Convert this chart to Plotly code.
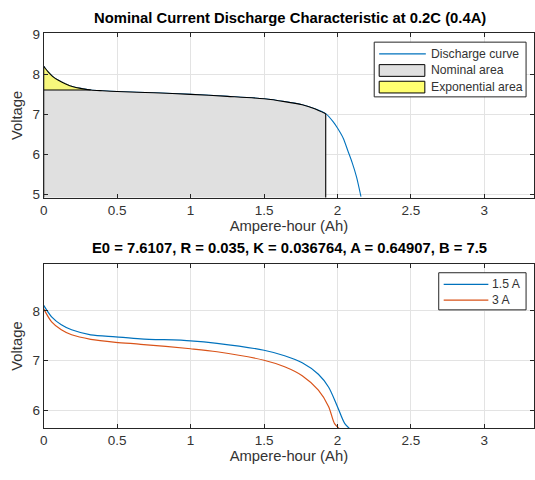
import plotly.graph_objects as go

W, H = 535, 480

# ---------------- data ----------------
# Top: nominal discharge curve at 0.2C (0.4 A)
top_q = [0.00, 0.03, 0.06, 0.10, 0.15, 0.20, 0.25, 0.32, 0.40, 0.50, 0.75, 1.00,
         1.25, 1.50, 1.64, 1.76, 1.84, 1.92, 1.97, 2.00, 2.04, 2.07, 2.10, 2.13, 2.16]
top_v = [8.20, 8.06, 7.95, 7.85, 7.76, 7.69, 7.65, 7.61, 7.59, 7.57, 7.54, 7.50,
         7.45, 7.39, 7.32, 7.24, 7.15, 7.02, 6.82, 6.66, 6.40, 6.10, 5.80, 5.44, 4.95]
Q_EXP = 0.32     # end of exponential zone (Ah)
V_EXP = 7.61     # voltage at end of exponential zone
Q_NOM = 1.92     # end of nominal zone (Ah)
V_FLOOR = 4.90   # lower edge of the shaded nominal area

# Bottom: discharge curves at two currents
q_15 = [0.00, 0.054, 0.12, 0.19, 0.32, 0.49, 0.66, 1.00, 1.18, 1.50, 1.64,
        1.76, 1.87, 1.94, 2.00, 2.05, 2.09]
v_15 = [8.11, 7.88, 7.72, 7.62, 7.52, 7.48, 7.44, 7.40, 7.35, 7.21, 7.10,
        6.96, 6.73, 6.47, 6.08, 5.74, 5.62]
q_3 = [0.00, 0.054, 0.12, 0.19, 0.32, 0.49, 0.66, 1.00, 1.18, 1.50, 1.64,
       1.76, 1.87, 1.94, 1.98, 2.02]
v_3 = [8.04, 7.78, 7.62, 7.52, 7.43, 7.37, 7.33, 7.24, 7.18, 7.01, 6.88,
       6.70, 6.41, 6.08, 5.74, 5.62]

x_ticks = [0, 0.5, 1, 1.5, 2, 2.5, 3]
x_tick_labels = ["0", "0.5", "1", "1.5", "2", "2.5", "3"]
top_y_ticks = [5, 6, 7, 8, 9]
bot_y_ticks = [6, 7, 8]

title_top = "Nominal Current Discharge Characteristic at 0.2C (0.4A)"
title_bot = "E0 = 7.6107, R = 0.035, K = 0.036764, A = 0.64907, B = 7.5"
x_label = "Ampere-hour (Ah)"
y_label = "Voltage"
top_legend = ["Discharge curve", "Nominal area", "Exponential area"]
bot_legend = ["1.5 A", "3 A"]

# ---------------- styles ----------------
BLUE = "#0072BD"
ORANGE = "#D95319"
GRAY_FILL = "#E0E0E0"
YELLOW_FILL = "#F7F77C"
AX = "#262626"
TXT = "#333333"
GRID = "#E3E3E3"
FONT = "Liberation Sans, Arial, sans-serif"


def px(x):
    return x / W


def py(y):
    return 1 - y / H


# regions built from the data
nom_q = [q for q in top_q if q <= Q_NOM]
nom_v = top_v[:len(nom_q)]
gray_x = [0] + nom_q + [Q_NOM, 0]
gray_y = [V_FLOOR] + nom_v + [V_FLOOR, V_FLOOR]

exp_q = [q for q in top_q if q <= Q_EXP]
exp_v = top_v[:len(exp_q)]
yel_x = exp_q + [0, 0]
yel_y = exp_v + [V_EXP, exp_v[0]]

fig = go.Figure()


def add_line(x, y, color, width, xa, ya, shape="linear", name=None):
    fig.add_trace(go.Scatter(x=x, y=y, mode="lines", name=name,
                             line=dict(color=color, width=width, shape=shape,
                                       smoothing=0.8),
                             showlegend=False, xaxis=xa, yaxis=ya))


# top panel
add_line(top_q, top_v, BLUE, 1.1, "x", "y", "spline", "Discharge curve")
fig.add_trace(go.Scatter(x=gray_x, y=gray_y, mode="lines", fill="toself",
                         fillcolor=GRAY_FILL, line=dict(width=0),
                         name="Nominal area", showlegend=False, xaxis="x", yaxis="y"))
fig.add_trace(go.Scatter(x=yel_x, y=yel_y, mode="lines", fill="toself",
                         fillcolor=YELLOW_FILL, line=dict(width=0),
                         name="Exponential area", showlegend=False, xaxis="x", yaxis="y"))
# black outlines of the shaded areas
add_line(nom_q, nom_v, "black", 1.1, "x", "y", "spline")
add_line([Q_NOM, Q_NOM], [nom_v[-1], V_FLOOR], "black", 1.1, "x", "y")
add_line([0, 0], [V_FLOOR, top_v[0]], "black", 1.1, "x", "y")
add_line([0, Q_EXP], [V_EXP, V_EXP], "black", 1.1, "x", "y")

# bottom panel
add_line(q_15, v_15, BLUE, 1.2, "x2", "y2", "spline", bot_legend[0])
add_line(q_3, v_3, ORANGE, 1.2, "x2", "y2", "spline", bot_legend[1])

xdom = [px(40), px(534)]
common_x = dict(range=[0, 3.338], tickvals=x_ticks, ticktext=x_tick_labels,
                ticks="inside", ticklen=4, tickcolor=AX, showline=True, linecolor=AX,
                linewidth=1, mirror="ticks", showgrid=True, gridcolor=GRID,
                zeroline=False, tickfont=dict(size=13.5, color=TXT, family=FONT),
                title=dict(text=x_label, font=dict(size=14.8, color=TXT, family=FONT),
                           standoff=2),
                domain=xdom)
common_y = dict(ticks="inside", ticklen=4, tickcolor=AX, showline=True, linecolor=AX,
                linewidth=1, mirror="ticks", showgrid=True, gridcolor=GRID,
                zeroline=False, tickfont=dict(size=13.5, color=TXT, family=FONT),
                title=dict(text=y_label, font=dict(size=14.8, color=TXT, family=FONT),
                           standoff=6))

fig.update_layout(
    width=W, height=H, margin=dict(l=0, r=0, t=0, b=0),
    paper_bgcolor="white", plot_bgcolor="white",
    font=dict(family=FONT, color=TXT),
    xaxis=dict(anchor="y", **common_x),
    yaxis=dict(anchor="x", domain=[py(196), py(28)], range=[4.93, 9.02],
               tickvals=top_y_ticks, **common_y),
    xaxis2=dict(anchor="y2", **common_x),
    yaxis2=dict(anchor="x2", domain=[py(432), py(264)], range=[5.65, 8.94],
                tickvals=bot_y_ticks, **common_y),
    showlegend=False,
)

annotations = [
    dict(text="<b>%s</b>" % title_top, x=px(288), y=py(12), xref="paper", yref="paper",
         showarrow=False, xanchor="center", yanchor="middle",
         font=dict(size=14.8, color="black", family=FONT)),
    dict(text="<b>%s</b>" % title_bot, x=px(288), y=py(248), xref="paper", yref="paper",
         showarrow=False, xanchor="center", yanchor="middle",
         font=dict(size=14.8, color="black", family=FONT)),
]

# MATLAB-style legend boxes
shapes = [
    # top legend
    dict(type="rect", xref="paper", yref="paper", x0=px(373), x1=px(526),
         y0=py(93), y1=py(37), line=dict(color=AX, width=1), fillcolor="white",
         layer="above"),
    dict(type="line", xref="paper", yref="paper", x0=px(378), x1=px(425),
         y0=py(49), y1=py(49), line=dict(color=BLUE, width=1.2), layer="above"),
    dict(type="rect", xref="paper", yref="paper", x0=px(378), x1=px(424),
         y0=py(72), y1=py(60), line=dict(color="black", width=1),
         fillcolor=GRAY_FILL, layer="above"),
    dict(type="rect", xref="paper", yref="paper", x0=px(378), x1=px(424),
         y0=py(89), y1=py(77), line=dict(color="black", width=1),
         fillcolor="#FFFF70", layer="above"),
    # bottom legend
    dict(type="rect", xref="paper", yref="paper", x0=px(438), x1=px(526),
         y0=py(311), y1=py(273), line=dict(color=AX, width=1), fillcolor="white",
         layer="above"),
    dict(type="line", xref="paper", yref="paper", x0=px(443), x1=px(488),
         y0=py(285), y1=py(285), line=dict(color=BLUE, width=1.2), layer="above"),
    dict(type="line", xref="paper", yref="paper", x0=px(443), x1=px(488),
         y0=py(301), y1=py(301), line=dict(color=ORANGE, width=1.2), layer="above"),
]
for label, yy in zip(top_legend, [49, 66, 83]):
    annotations.append(dict(text=label, x=px(428), y=py(yy), xref="paper", yref="paper",
                            showarrow=False, xanchor="left", yanchor="middle",
                            font=dict(size=12.2, color=TXT, family=FONT)))
for label, yy in zip(bot_legend, [285, 301]):
    annotations.append(dict(text=label, x=px(490), y=py(yy), xref="paper", yref="paper",
                            showarrow=False, xanchor="left", yanchor="middle",
                            font=dict(size=12.2, color=TXT, family=FONT)))

fig.update_layout(annotations=annotations, shapes=shapes)
fig.write_html("out.html")
